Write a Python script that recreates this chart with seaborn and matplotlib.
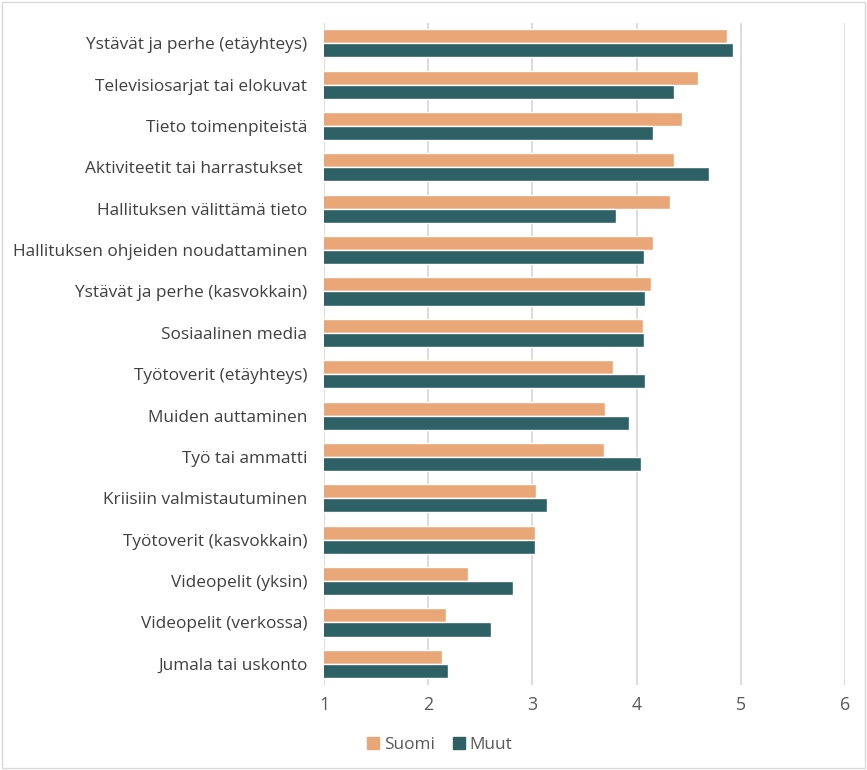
import pandas as pd
import matplotlib.pyplot as plt
import seaborn as sns
from matplotlib.patches import Rectangle

# Data
categories = [
    "Ystävät ja perhe (etäyhteys)",
    "Televisiosarjat tai elokuvat",
    "Tieto toimenpiteistä",
    "Aktiviteetit tai harrastukset ",
    "Hallituksen välittämä tieto",
    "Hallituksen ohjeiden noudattaminen",
    "Ystävät ja perhe (kasvokkain)",
    "Sosiaalinen media",
    "Työtoverit (etäyhteys)",
    "Muiden auttaminen",
    "Työ tai ammatti",
    "Kriisiin valmistautuminen",
    "Työtoverit (kasvokkain)",
    "Videopelit (yksin)",
    "Videopelit (verkossa)",
    "Jumala tai uskonto",
]
suomi = [4.87, 4.59, 4.44, 4.36, 4.32, 4.16, 4.14, 4.06, 3.77, 3.70, 3.69, 3.03, 3.02, 2.38, 2.17, 2.13]
muut = [4.92, 4.36, 4.16, 4.69, 3.80, 4.07, 4.08, 4.07, 4.08, 3.93, 4.04, 3.14, 3.02, 2.81, 2.60, 2.19]
series = ["Suomi", "Muut"]
colors = ["#E9A677", "#2D6166"]
x_ticks = [1, 2, 3, 4, 5, 6]

df = pd.DataFrame({
    "kategoria": categories * 2,
    "arvo": suomi + muut,
    "ryhma": [series[0]] * len(categories) + [series[1]] * len(categories),
})

sns.set_style("white")
plt.rcParams['font.family'] = ['Open Sans', 'DejaVu Sans']

fig = plt.figure(figsize=(8.67, 7.70), dpi=100)
ax = fig.add_axes([0.3737, 0.111, 0.601, 0.8597])

sns.barplot(data=df, y="kategoria", x="arvo", hue="ryhma", order=categories,
            hue_order=series, palette=colors, orient="h", width=0.68,
            saturation=1, ax=ax, legend=False)

ax.set_xlim(1, 6)
ax.set_xticks(x_ticks)
ax.set_xlabel("")
ax.set_ylabel("")
ax.set_axisbelow(True)
ax.grid(axis="x", color="#D9D9D9", linewidth=1.3)
ax.grid(axis="y", visible=False)
for s in ax.spines.values():
    s.set_visible(False)
ax.tick_params(axis="y", length=0, labelsize=12.4, colors="#404040", pad=12)
ax.tick_params(axis="x", length=0, labelsize=12.8, colors="#595959", pad=8)

handles = [Rectangle((0, 0), 1, 1, color=c) for c in colors]
fig.legend(handles, series, loc="center", bbox_to_anchor=(440 / 867, 1 - 745 / 770),
           ncol=2, frameon=False, fontsize=12.4, handlelength=0.7, handleheight=0.7,
           handletextpad=0.3, columnspacing=1.0, labelcolor="#595959")

# light chart border like the original
fig.patches.append(Rectangle((0.002, 0.002), 0.996, 0.996, transform=fig.transFigure,
                             fill=False, edgecolor="#D9D9D9", linewidth=1))

fig.savefig("out.png", dpi=100)
